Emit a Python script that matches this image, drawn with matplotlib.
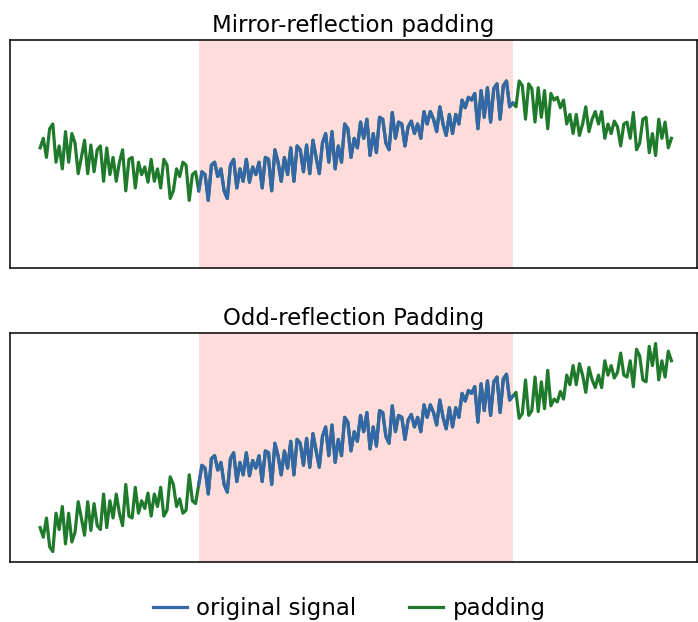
import numpy as np
import matplotlib
matplotlib.use("Agg")
import matplotlib.pyplot as plt

# noisy upward trend, 100 samples
signal = [7.3, 9.3, 9.0, 6.3, 10.0, 10.3, 8.8, 9.6, 7.3, 6.5,
          10.0, 10.6, 7.6, 9.6, 8.3, 10.6, 8.2, 9.8, 9.0, 10.3,
          7.6, 10.8, 10.6, 7.3, 11.6, 10.3, 8.3, 10.8, 9.0, 11.8,
          8.3, 12.0, 11.6, 9.3, 12.1, 9.1, 12.6, 10.8, 9.1, 12.3,
          13.3, 10.3, 13.5, 9.6, 12.0, 10.3, 14.3, 13.8, 10.8, 12.8,
          11.8, 14.5, 12.8, 14.8, 11.0, 13.3, 11.3, 15.0, 14.8, 12.3,
          11.6, 15.5, 12.8, 14.5, 14.3, 12.0, 14.0, 14.6, 13.3, 14.3,
          12.8, 15.6, 14.3, 15.6, 14.8, 13.5, 16.1, 14.3, 13.1, 15.3,
          13.3, 15.3, 14.3, 16.8, 16.0, 17.1, 16.8, 17.5, 13.8, 17.8,
          15.0, 18.1, 14.5, 18.0, 18.5, 14.8, 18.3, 18.8, 16.1, 16.5]
pad_width = 50

titles = ["Mirror-reflection padding", "Odd-reflection Padding"]
reflect_types = ["even", "odd"]

blue = "#3467a8"
green = "#1f7a2c"

signal = np.array(signal)
n = len(signal)
t = np.arange(n)
t_pad = np.arange(-pad_width, n + pad_width)

fig = plt.figure(figsize=(6.98, 6.22), dpi=100)
ax1 = fig.add_axes([0.0143, 0.569, 0.984, 0.3666])
ax2 = fig.add_axes([0.0143, 0.0965, 0.984, 0.368], sharey=ax1)

for ax, title, rtype in zip([ax1, ax2], titles, reflect_types):
    padded = np.pad(signal, pad_width, mode="reflect", reflect_type=rtype)
    ax.axvspan(0, n - 1, color="#ffdcdc", lw=0, zorder=0)
    ax.plot(t_pad, padded, color=green, lw=2.3, label="padding")
    ax.plot(t, signal, color=blue, lw=2.3, label="original signal")
    ax.set_xlim(-pad_width - 9.5, n + pad_width + 7)
    ax.set_title(title, fontsize=16.5, pad=6)
    ax.set_xticks([])
    ax.tick_params(left=False, labelleft=False)
    for s in ax.spines.values():
        s.set_linewidth(1.1)

handles, labels = ax1.get_legend_handles_labels()
fig.legend(handles[::-1], labels[::-1], loc="center", bbox_to_anchor=(0.5, 0.022),
           ncol=2, frameon=False, fontsize=16.5, columnspacing=2.3,
           handlelength=1.5, handletextpad=0.4)

plt.savefig("out.png", dpi=100)
